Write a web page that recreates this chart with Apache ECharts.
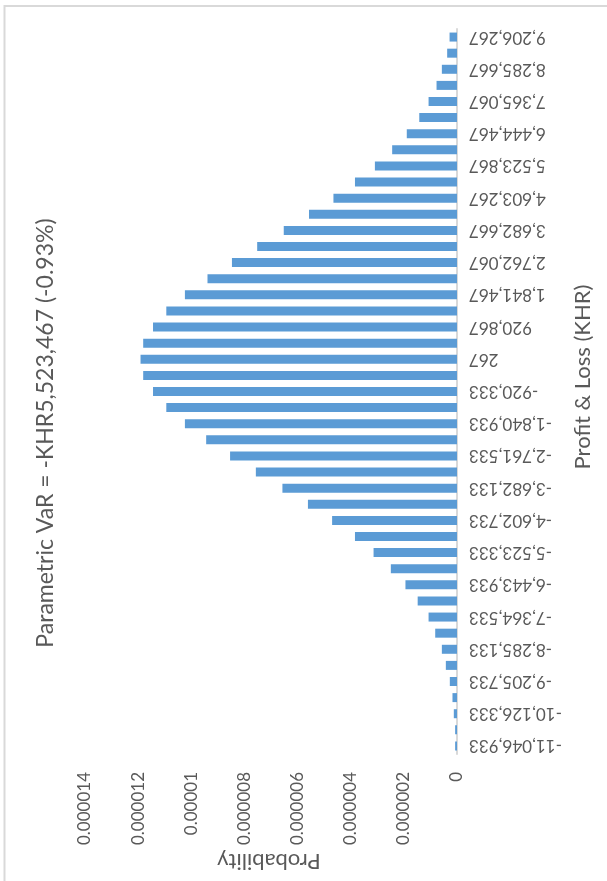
<!DOCTYPE html>
<html>
<head>
<meta charset="utf-8">
<script src="https://cdn.jsdelivr.net/npm/echarts@6/dist/echarts.min.js"></script>
<style>
  html, body { margin: 0; padding: 0; background: #fff; }
  #main { width: 607px; height: 881px; }
</style>
</head>
<body>
<div id="main"></div>
<script>
// P&L buckets (KHR), lowest first
var pnlBuckets = ['-11,046,933','-10,586,633','-10,126,333','-9,666,033','-9,205,733','-8,745,433','-8,285,133','-7,824,833','-7,364,533','-6,904,233',
  '-6,443,933','-5,983,633','-5,523,333','-5,063,033','-4,602,733','-4,142,433','-3,682,133','-3,221,833','-2,761,533','-2,301,233',
  '-1,840,933','-1,380,633','-920,333','-460,033','267','460,567','920,867','1,381,167','1,841,467','2,301,767',
  '2,762,067','3,222,367','3,682,667','4,142,967','4,603,267','5,063,567','5,523,867','5,984,167','6,444,467','6,904,767',
  '7,365,067','7,825,367','8,285,667','8,745,967','9,206,267'];
// probability per bucket
var probability = [0.07e-6,0.07e-6,0.12e-6,0.17e-6,0.27e-6,0.42e-6,0.57e-6,0.82e-6,1.07e-6,1.48e-6,
  1.94e-6,2.49e-6,3.14e-6,3.84e-6,4.70e-6,5.61e-6,6.57e-6,7.57e-6,8.54e-6,9.44e-6,
  10.24e-6,10.94e-6,11.44e-6,11.81e-6,11.91e-6,11.81e-6,11.44e-6,10.94e-6,10.24e-6,9.39e-6,
  8.47e-6,7.52e-6,6.52e-6,5.57e-6,4.65e-6,3.84e-6,3.09e-6,2.44e-6,1.89e-6,1.42e-6,
  1.07e-6,0.77e-6,0.57e-6,0.37e-6,0.28e-6];
var probMax = 0.000014;
var probStep = 0.000002;

var titleText = 'Parametric VaR = -KHR5,523,467 (-0.93%)';
var txtColor = '#595959';
var fontName = 'Lato, "Open Sans", sans-serif';

var myChart = echarts.init(document.getElementById('main'));
var option = {
  backgroundColor: '#fff',
  animation: false,
  grid: { left: 85, right: 150, top: 29, bottom: 127, containLabel: false },
  xAxis: {
    type: 'value',
    inverse: true,
    min: 0,
    max: probMax,
    interval: probStep,
    axisLine: { show: false },
    axisTick: { show: false },
    splitLine: { show: false },
    axisLabel: {
      rotate: 90,
      margin: 18,
      color: txtColor,
      fontFamily: fontName,
      fontSize: 17,
      formatter: function (v) { return v === 0 ? '0' : String(parseFloat(v.toFixed(6))); }
    }
  },
  yAxis: {
    type: 'category',
    position: 'right',
    data: pnlBuckets,
    axisLine: { show: true, lineStyle: { color: '#d9d9d9', width: 2 } },
    axisTick: { show: false },
    axisLabel: {
      interval: 1,
      rotate: 180,
      margin: 12,
      color: txtColor,
      fontFamily: fontName,
      fontSize: 17
    }
  },
  series: [{
    type: 'bar',
    data: probability,
    barWidth: 9,
    itemStyle: { color: '#5b9bd5' }
  }],
  graphic: [
    { type: 'rect', shape: { x: 4.5, y: 6, width: 800, height: 1000 }, style: { fill: 'none', stroke: '#d9d9d9', lineWidth: 2 }, silent: true },
    { type: 'text', x: 46, y: 433, rotation: Math.PI / 2,
      style: { text: titleText, fill: txtColor, font: '23px ' + fontName, align: 'center', verticalAlign: 'middle' } },
    { type: 'text', x: 583, y: 377, rotation: Math.PI / 2,
      style: { text: 'Profit & Loss (KHR)', fill: txtColor, font: '22px ' + fontName, align: 'center', verticalAlign: 'middle' } },
    { type: 'text', x: 269, y: 861, rotation: Math.PI,
      style: { text: 'Probability', fill: txtColor, font: '22px ' + fontName, align: 'center', verticalAlign: 'middle' } }
  ]
};
myChart.setOption(option);
</script>
</body>
</html>
